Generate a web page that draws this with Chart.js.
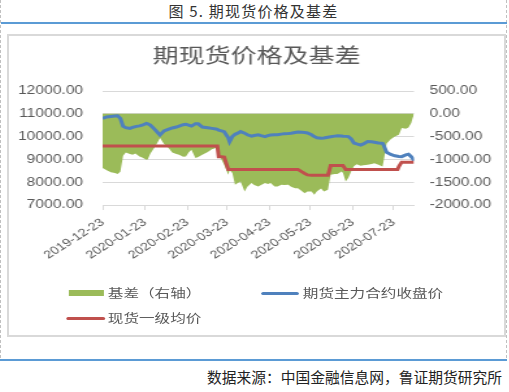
<!DOCTYPE html>
<html>
<head>
<meta charset="utf-8">
<script src="https://cdn.jsdelivr.net/npm/chart.js@4.4.1/dist/chart.umd.min.js"></script>
<style>
    html, body { margin: 0; padding: 0; background: #fff; }
    body { width: 509px; height: 392px; position: relative; overflow: hidden; font-family: "Noto Sans CJK SC", sans-serif; }
    .dash { position: absolute; top: 0; height: 358px; border-left: 1px dashed #c0c0c0; }
    .rule { position: absolute; left: 1px; width: 506px; height: 2px; background: #5b9bd5; }
    #caption { position: absolute; top: 1px; left: 0; width: 507px; text-align: center; font-size: 15px; line-height: 20px; color: #333; letter-spacing: 1.2px; }
    #box { position: absolute; left: 7px; top: 34px; width: 495px; height: 299px; border: 2px solid #d9d9d9; }
    /* the original picture is stretched sideways, so the chart is drawn narrow and widened */
    #inner { position: absolute; left: 0; top: 0; width: 381px; height: 299px; transform: scaleX(1.3); transform-origin: 0 0; }
    .lg { position: absolute; font-size: 12px; line-height: 14px; color: #595959; white-space: nowrap; }
    .sw { position: absolute; }
    #source { position: absolute; right: 7px; top: 367px; font-size: 14.75px; line-height: 20px; color: #222; }
</style>
</head>
<body>
<div class="dash" style="left:0"></div>
<div class="dash" style="left:506px"></div>
<div class="rule" style="top:22px"></div>
<div id="caption">图 5. 期现货价格及基差</div>
<div id="box">
    <div id="inner">
        <canvas id="chart"></canvas>
        <div id="legend"></div>
    </div>
</div>
<div class="rule" style="top:359px;left:0;width:507px"></div>
<div id="source">数据来源：中国金融信息网，鲁证期货研究所</div>

<script>
// 数据
const dates = [
    '2019-12-23', '2019-12-26', '2019-12-29', '2020-01-01', '2020-01-03', '2020-01-05', '2020-01-07', '2020-01-09',
    '2020-01-12', '2020-01-14', '2020-01-16', '2020-01-19', '2020-01-21', '2020-01-24', '2020-01-25', '2020-01-27',
    '2020-01-30', '2020-02-01', '2020-02-03', '2020-02-06', '2020-02-09', '2020-02-12', '2020-02-15', '2020-02-17',
    '2020-02-20', '2020-02-22', '2020-02-24', '2020-02-26', '2020-02-29', '2020-03-02', '2020-03-05', '2020-03-09',
    '2020-03-12', '2020-03-15', '2020-03-16', '2020-03-17', '2020-03-19', '2020-03-21', '2020-03-24', '2020-03-25',
    '2020-03-27', '2020-03-29', '2020-03-31', '2020-04-02', '2020-04-05', '2020-04-07', '2020-04-10', '2020-04-12',
    '2020-04-15', '2020-04-17', '2020-04-20', '2020-04-22', '2020-04-24', '2020-04-27', '2020-04-29', '2020-05-02',
    '2020-05-04', '2020-05-07', '2020-05-09', '2020-05-12', '2020-05-14', '2020-05-17', '2020-05-19', '2020-05-21',
    '2020-05-24', '2020-05-26', '2020-05-28', '2020-05-31', '2020-06-02', '2020-06-05', '2020-06-07', '2020-06-10',
    '2020-06-12', '2020-06-15', '2020-06-16', '2020-06-18', '2020-06-20', '2020-06-22', '2020-06-24', '2020-06-26',
    '2020-06-29', '2020-07-01', '2020-07-04', '2020-07-07', '2020-07-09', '2020-07-12', '2020-07-15', '2020-07-16',
    '2020-07-18', '2020-07-21', '2020-07-24', '2020-07-26', '2020-07-27', '2020-07-29', '2020-08-01', '2020-08-03',
    '2020-08-05', '2020-08-06', '2020-08-07'
];

// 期货主力合约收盘价
const futuresClose = [
    10800, 10860, 10880, 10900, 10910, 10800, 10450, 10390,
    10360, 10400, 10440, 10470, 10500, 10580, 10560, 10500,
    10330, 10200, 10070, 10250, 10320, 10380, 10420, 10460,
    10520, 10540, 10500, 10460, 10560, 10560, 10420, 10390,
    10360, 10330, 10320, 10280, 10250, 10215, 9950, 9780,
    10000, 10100, 10150, 10220, 10150, 10080, 10020, 10050,
    10080, 10040, 10000, 10040, 10070, 10080, 10080, 10110,
    10130, 10140, 10150, 10180, 10200, 10190, 10180, 10160,
    10080, 10000, 9950, 9925, 9940, 9970, 9990, 10020,
    10040, 10030, 10020, 10010, 10000, 9900, 9720, 9680,
    9630, 9680, 9780, 9770, 9750, 9720, 9705, 9600,
    9310, 9220, 9160, 9140, 9130, 9120, 9200, 9225,
    9120, 9050, 8930
];

// 现货一级均价
const spotAvg = [
    9590, 9590, 9590, 9590, 9590, 9590, 9590, 9590,
    9590, 9590, 9590, 9590, 9590, 9590, 9590, 9590,
    9590, 9590, 9590, 9590, 9590, 9590, 9590, 9590,
    9590, 9590, 9590, 9590, 9590, 9590, 9590, 9590,
    9590, 9590, 9590, 9120, 9120, 9100, 8560, 8560,
    8560, 8560, 8560, 8560, 8560, 8560, 8560, 8560,
    8560, 8560, 8560, 8560, 8560, 8560, 8560, 8560,
    8560, 8560, 8560, 8560, 8560, 8450, 8380, 8320,
    8310, 8310, 8310, 8310, 8310, 8310, 8730, 8730,
    8730, 8730, 8730, 8560, 8560, 8560, 8560, 8560,
    8560, 8560, 8560, 8560, 8560, 8560, 8560, 8560,
    8560, 8560, 8560, 8560, 8700, 8880, 8880, 8880,
    8880, 8880, 8880
];

// 基差（右轴）
const basis = [
    -1190, -1240, -1280, -1300, -1322, -1270, -920, -850,
    -880, -900, -870, -935, -960, -1010, -1000, -870,
    -740, -640, -533, -664, -740, -850, -880, -900,
    -940, -935, -850, -790, -971, -950, -900, -840,
    -780, -752, -735, -900, -1000, -1118, -1338, -1230,
    -1300, -1557, -1520, -1485, -1704, -1600, -1520, -1560,
    -1594, -1560, -1520, -1540, -1520, -1594, -1594, -1557,
    -1560, -1557, -1600, -1630, -1630, -1700, -1740, -1704,
    -1704, -1776, -1700, -1640, -1704, -1667, -1338, -1320,
    -1322, -1265, -1300, -1485, -1400, -1265, -1150, -1104,
    -1140, -1130, -1118, -1100, -1082, -1120, -1155, -1000,
    -650, -560, -497, -470, -460, -314, -330, -300,
    -200, -100, -22
];

const monthTicks = ['2019-12-23', '2020-01-23', '2020-02-23', '2020-03-23', '2020-04-23', '2020-05-23', '2020-06-23', '2020-07-23'];

const labelBasis = '基差（右轴）';
const labelFutures = '期货主力合约收盘价';
const labelSpot = '现货一级均价';

const green = '#9bbb59';
const blue = '#4f81bd';
const red = '#c0504d';
const grey = '#595959';
const gridColor = '#d9d9d9';

const dia = d => (Date.parse(d) - Date.parse(dates[0])) / 864e5;
const serie = valores => dates.map((d, i) => ({ x: dia(d), y: valores[i] }));

const ctx = document.getElementById('chart').getContext('2d');
new Chart(ctx, {
    type: 'line',
    data: {
        datasets: [
            {
                label: labelSpot,
                data: serie(spotAvg),
                borderColor: red,
                borderWidth: 3,
                pointRadius: 0,
                tension: 0,
                yAxisID: 'y',
                order: 0
            },
            {
                label: labelFutures,
                data: serie(futuresClose),
                borderColor: blue,
                borderWidth: 3,
                pointRadius: 0,
                tension: 0,
                yAxisID: 'y',
                order: 1
            },
            {
                label: labelBasis,
                data: serie(basis),
                borderWidth: 0,
                borderColor: green,
                backgroundColor: green,
                fill: 'origin',
                pointRadius: 0,
                tension: 0,
                yAxisID: 'y1',
                order: 2
            }
        ]
    },
    options: {
        responsive: true,
        maintainAspectRatio: false,
        animation: false,
        layout: { padding: { left: 0, right: 0, top: 0, bottom: 60 } },
        plugins: {
            legend: { display: false },
            tooltip: { enabled: false },
            title: {
                display: true,
                text: '期现货价格及基差',
                color: grey,
                font: { family: '"Noto Sans CJK SC", sans-serif', size: 20, weight: 'normal' },
                padding: { top: 7, bottom: 24 }
            }
        },
        scales: {
            x: {
                type: 'linear',
                min: 0,
                max: dia(dates[dates.length - 1]),
                afterBuildTicks: scale => {
                    scale.ticks = monthTicks.map(d => ({ value: dia(d) }));
                },
                afterFit: scale => { scale.height = 70; },
                ticks: {
                    autoSkip: false,
                    minRotation: 39,
                    maxRotation: 39,
                    padding: 6,
                    color: grey,
                    font: { family: '"Liberation Sans", sans-serif', size: 11 },
                    callback: (v, i) => monthTicks[i]
                },
                grid: { drawOnChartArea: false, drawTicks: true, tickLength: 5, color: gridColor },
                border: { display: true, color: gridColor }
            },
            y: {
                position: 'left',
                min: 7000,
                max: 12000,
                afterFit: scale => { scale.width = 72; },
                ticks: {
                    stepSize: 1000,
                    padding: 15,
                    color: grey,
                    font: { family: '"Liberation Sans", sans-serif', size: 12 },
                    callback: v => v.toFixed(2)
                },
                grid: { color: gridColor, drawTicks: false },
                border: { display: false }
            },
            y1: {
                position: 'right',
                min: -2000,
                max: 500,
                afterFit: scale => { scale.width = 69.5; },
                ticks: {
                    stepSize: 500,
                    padding: 12,
                    color: grey,
                    font: { family: '"Liberation Sans", sans-serif', size: 12 },
                    callback: v => v.toFixed(2)
                },
                grid: { drawOnChartArea: false, drawTicks: false },
                border: { display: false }
            }
        }
    }
});

// 图例（两行，按原图位置摆放）
const legend = document.getElementById('legend');
const items = [
    { label: labelBasis, color: green, h: 6, sx: 45.5, sw: 27, tx: 76, cy: 257 },
    { label: labelFutures, color: blue, h: 3, sx: 194, sw: 29, tx: 226, cy: 257 },
    { label: labelSpot, color: red, h: 3, sx: 44, sw: 30, tx: 76, cy: 282 }
];
items.forEach(it => {
    const sw = document.createElement('div');
    sw.className = 'sw';
    sw.style.cssText = `left:${it.sx}px;top:${it.cy - it.h / 2}px;width:${it.sw}px;height:${it.h}px;background:${it.color};border-radius:${it.h > 3 ? 0 : 1.5}px`;
    legend.appendChild(sw);
    const tx = document.createElement('div');
    tx.className = 'lg';
    tx.style.cssText = `left:${it.tx}px;top:${it.cy - 7}px`;
    tx.textContent = it.label;
    legend.appendChild(tx);
});
</script>
</body>
</html>
